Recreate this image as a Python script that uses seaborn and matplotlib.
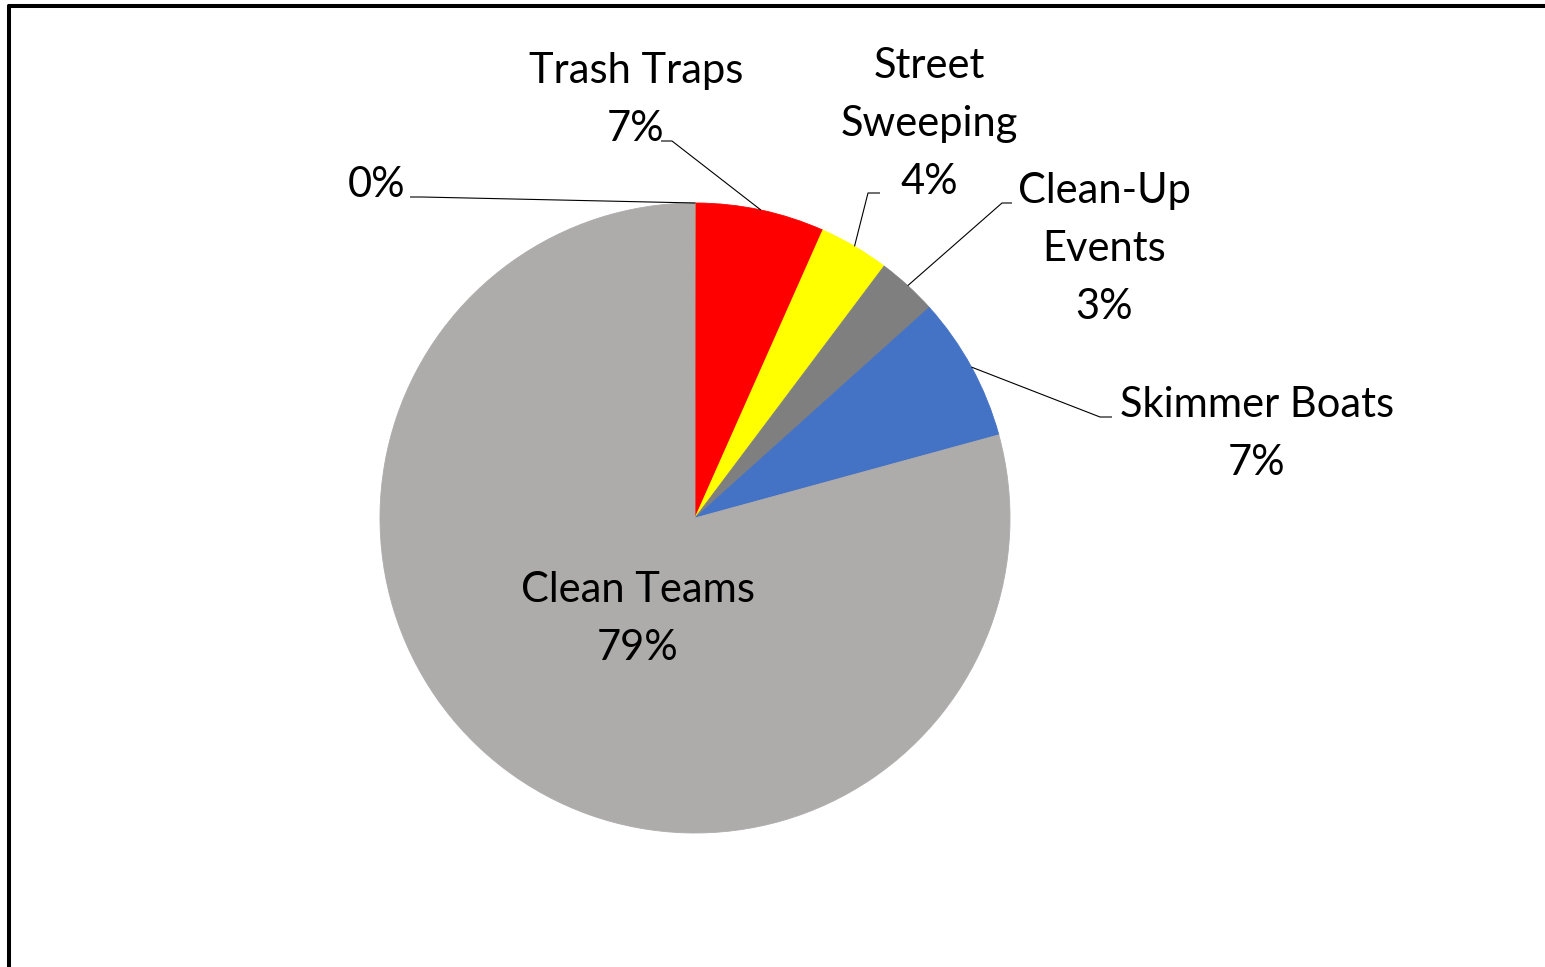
import matplotlib
matplotlib.use("Agg")
import numpy as np
import matplotlib.pyplot as plt
import seaborn as sns
from matplotlib.lines import Line2D

# ---- data -------------------------------------------------------------
programs = ["", "Trash Traps", "Street Sweeping", "Clean-Up Events",
            "Skimmer Boats", "Clean Teams"]
shares = [0.05, 6.6, 3.6, 3.1, 7.4, 79.25]          # percent of total
name_lines = [[], ["Trash Traps"], ["Street", "Sweeping"],
              ["Clean-Up", "Events"], ["Skimmer Boats"], ["Clean Teams"]]

slice_colors = ["#ED7D31", "#FF0000", "#FFFF00", "#7F7F7F", "#4472C4", "#AEABAB"]

# ---- style ------------------------------------------------------------
sns.set_theme(style="white")
plt.rcParams["font.family"] = ["Lato", "DejaVu Sans"]

W, H = 1545, 967
fig = plt.figure(figsize=(W / 100, H / 100), dpi=100)
ax = fig.add_axes([0, 0, 1, 1])

# work in pixel-like units, y measured upward
def P(px, py):
    return px, H - py

cx, cy = P(695, 518)
R = 315

wedges, _ = ax.pie(shares, colors=slice_colors, startangle=90, counterclock=False,
                   radius=R, center=(cx, cy), wedgeprops=dict(linewidth=0.6))
for w in wedges:
    w.set_edgecolor(w.get_facecolor())
ax.set_xlim(0, W)
ax.set_ylim(0, H)
ax.set_aspect("equal")
ax.axis("off")

FS = 30
LINE = 58

# label block: (anchor x, first baseline y, horizontal alignment)
label_layout = [
    (405, 197, "right"),
    (636, 83, "center"),
    (929, 78, "center"),
    (1104, 203, "center"),
    (1257, 417, "center"),
    (638, 602, "center"),
]
# leader lines: elbow point and end of short horizontal stub
leader_layout = [
    ((422, 197), (410, 197)),
    ((672, 141), (661, 141)),
    ((868, 193), (880, 193)),
    ((1002, 203), (1012, 203)),
    ((1100, 417), (1112, 417)),
    None,
]

cum = np.concatenate([[0], np.cumsum(shares)[:-1]])
total = sum(shares)
for i, (v, start) in enumerate(zip(shares, cum)):
    lines = name_lines[i] + [f"{v:.0f}%"]
    x0, y0, ha = label_layout[i]
    for k, txt in enumerate(lines):
        tx, ty = P(x0, y0 + k * LINE)
        ax.text(tx, ty, txt, ha=ha, va="baseline", fontsize=FS, color="black")
    if leader_layout[i] is not None:
        mid = np.deg2rad(90 - 360 * (start + v / 2) / total)
        ax_pt = (cx + R * np.cos(mid), cy + R * np.sin(mid))
        (ex, ey), (sx, sy) = leader_layout[i]
        e = P(ex, ey)
        s = P(sx, sy)
        ax.plot([ax_pt[0], e[0], s[0]], [ax_pt[1], e[1], s[1]],
                color="black", lw=0.8, solid_capstyle="butt")

# outer chart frame (top and left edges)
fig.add_artist(Line2D([9 / W, 1.0], [1 - 6 / H, 1 - 6 / H],
                      transform=fig.transFigure, color="black", lw=2.9))
fig.add_artist(Line2D([9 / W, 9 / W], [1 - 6 / H, 0.0],
                      transform=fig.transFigure, color="black", lw=2.9))

fig.savefig("out.png", dpi=100, facecolor="white")
